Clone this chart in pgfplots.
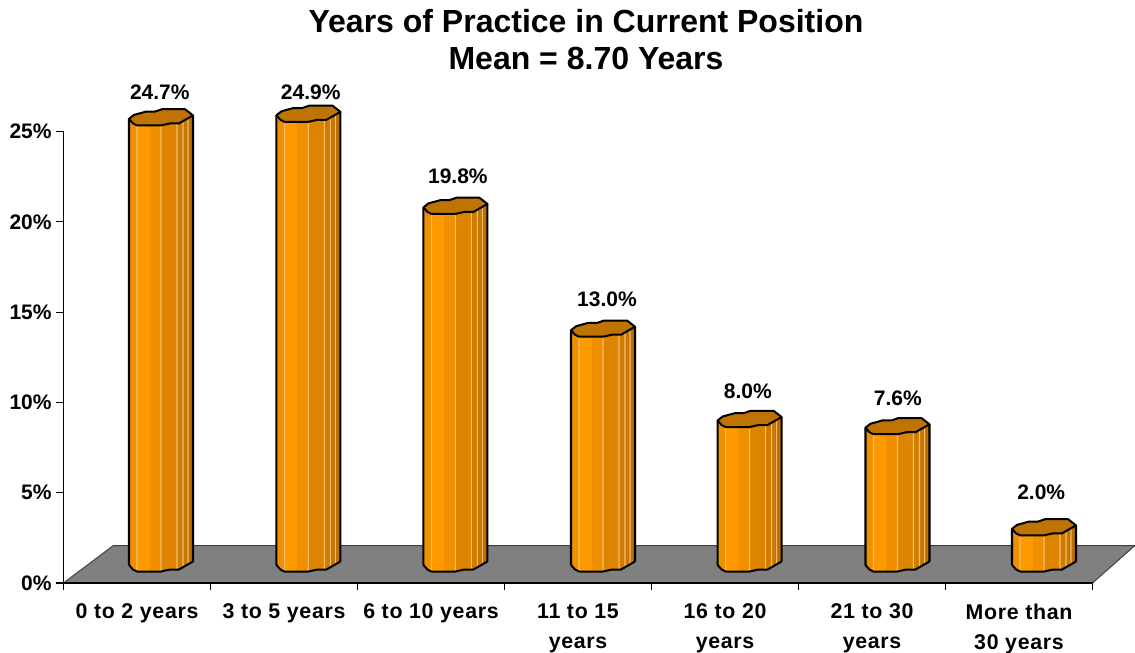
\documentclass[border=0pt]{standalone}
\usepackage{fontspec}
\usepackage{pgfplots}
\usepackage{pgfplotstable}
\pgfplotsset{compat=1.18}
\setmainfont{Liberation Sans}
\newfontfamily\xfont[LetterSpace=3.2]{Liberation Sans}

% 1 pixel of the reference = 0.75pt
\newdimen\px \px=0.75pt

\definecolor{floorfill}{HTML}{808080}
\definecolor{floorline}{HTML}{404040}
\definecolor{captop}{HTML}{BF7300}
\definecolor{bA}{HTML}{F09000}
\definecolor{bB}{HTML}{FF9900}
\definecolor{bC}{HTML}{F09000}
\definecolor{bD}{HTML}{DD8500}
\definecolor{bE}{HTML}{CF7C00}
\definecolor{bF}{HTML}{C87800}
\definecolor{bG}{HTML}{BC7100}
\definecolor{glint}{HTML}{F3BC70}

% x = bar position, v = value, lx/ly = where the value label sits
\pgfplotstableread{
x     v    lx    ly
0.500 24.7 0.655 27.16
1.503 24.9 1.682 27.19
2.503 19.8 2.683 22.51
3.507 13.0 3.697 15.71
4.504 8.0  4.655 10.62
5.510 7.6  5.676 10.23
6.507 2.0  6.651 5.00
}\bars

% cap of a cylinder, drawn at the top of the bar
\pgfdeclareplotmark{cyltop}{%
  \pgfpathmoveto{\pgfpoint{-8\px}{18\px}}%
  \pgfpathlineto{\pgfpoint{-4\px}{13.5\px}}%
  \pgfpathlineto{\pgfpoint{0\px}{11.5\px}}%
  \pgfpathlineto{\pgfpoint{24\px}{11.5\px}}%
  \pgfpathlineto{\pgfpoint{33\px}{13.5\px}}%
  \pgfpathlineto{\pgfpoint{42\px}{13.5\px}}%
  \pgfpathlineto{\pgfpoint{56\px}{21.5\px}}%
  \pgfpathlineto{\pgfpoint{48\px}{27.7\px}}%
  \pgfpathlineto{\pgfpoint{25\px}{27.7\px}}%
  \pgfpathlineto{\pgfpoint{18\px}{25.3\px}}%
  \pgfpathlineto{\pgfpoint{9\px}{25.3\px}}%
  \pgfpathlineto{\pgfpoint{-3\px}{22\px}}%
  \pgfpathclose
  \pgfusepathqfillstroke}
% front edge of the foot
\pgfdeclareplotmark{cylfoot}{%
  \pgfpathmoveto{\pgfpoint{-8\px}{18\px}}%
  \pgfpathlineto{\pgfpoint{-4\px}{13.5\px}}%
  \pgfpathlineto{\pgfpoint{0\px}{11.5\px}}%
  \pgfpathlineto{\pgfpoint{24\px}{11.5\px}}%
  \pgfpathlineto{\pgfpoint{33\px}{13.5\px}}%
  \pgfpathlineto{\pgfpoint{42\px}{13.5\px}}%
  \pgfpathlineto{\pgfpoint{56\px}{21.5\px}}%
  \pgfusepathqstroke}

% one vertical slice of every cylinder: centre, width, colour, lift (pixels)
\newcommand\strip[4]{%
  \addplot[ybar, bar shift={(#1-8)*0.75pt}, bar width={(#2+0.5)*0.75pt},
    fill=#3, draw=none, yshift={#4*0.75pt}] table[x=x,y=v] {\bars};}

\begin{document}
\begin{tikzpicture}
\path[use as bounding box] (0,0) rectangle (851.25pt,489.75pt);
\begin{axis}[
  at={(47.625pt,52.5pt)}, anchor=south west,
  scale only axis, width=771.75pt, height=338.625pt,
  xmin=0, xmax=7, ymin=0, ymax=25,
  axis x line*=bottom, axis y line*=left,
  axis on top, clip=false,
  axis line style={black, line width=0.9pt},
  tick style={black, line width=0.8pt},
  tick align=outside,
  major tick length=5.25pt,
  ytick={0,5,10,15,20,25},
  yticklabels={0\%,5\%,10\%,15\%,20\%,25\%},
  y tick label style={font=\fontsize{15.75}{18}\bfseries, inner sep=0pt, xshift=-3.5pt},
  xtick={0,...,7},
  xticklabels={},
  extra x ticks={0.5,1.5,2.5,3.5,4.5,5.5,6.5},
  extra x tick labels={0 to 2 years,3 to 5 years,6 to 10 years,11 to 15\\years,16 to 20\\years,21 to 30\\years,More than\\30 years},
  extra x tick style={major tick length=0pt},
  x tick label style={font=\fontsize{16}{22.5}\xfont\bfseries, align=center, inner sep=0pt, yshift=-15.5pt},
  title={Years of Practice in Current Position\\Mean = 8.70 Years},
  title style={font=\fontsize{24}{27.75}\bfseries, align=center, at={(0.5078,1)},
    anchor=south, inner sep=0pt, yshift=40.25pt},
]
% floor
\addplot[fill=floorfill, draw=floorline, line width=0.75pt] coordinates
  {(0,0) (7,0) (7.289,2.076) (0.34,2.076)} -- cycle;

% cylinder bodies, left to right
\strip{1}{2}{bA}{16.9}
\strip{3}{2}{bA}{14.6}
\strip{5}{2}{bA}{13}
\strip{7}{2}{bA}{12}
\strip{14.5}{13}{bB}{11.5}
\strip{26.5}{11}{bC}{11.5}
\strip{34}{4}{bD}{12}
\strip{38}{4}{bD}{13}
\strip{44}{8}{bD}{13.5}
\strip{49}{2}{bE}{13.6}
\strip{51}{2}{bE}{14.5}
\strip{53}{2}{bE}{15.3}
\strip{55}{2}{bF}{16.4}
\strip{57}{2}{bF}{17.6}
\strip{59}{2}{bG}{18.7}
\strip{61}{2}{bG}{19.9}
\strip{62.7}{1.6}{bG}{21}
% light seams between the faces
\strip{8}{0.6}{glint}{11.5}
\strip{32}{0.6}{glint}{11.5}
\strip{48}{0.6}{glint}{13.5}
\strip{54}{0.6}{glint}{15.8}
\strip{59}{0.6}{glint}{18.5}
% side edges
\strip{0}{1.6}{black}{18}
\strip{64}{1.6}{black}{21.5}

% foot edge and top cap
\addplot[only marks, mark=cylfoot, mark options={draw=black, line width=1.5pt, line join=round}]
  table[x=x, y expr=0] {\bars};
\addplot[only marks, mark=cyltop, mark options={draw=black, fill=captop, line width=1.5pt, line join=round}]
  table[x=x, y=v] {\bars};

% value labels
\addplot[draw=none, point meta=explicit,
  nodes near coords={\pgfmathprintnumber[fixed,fixed zerofill,precision=1,assume math mode=true]{\pgfplotspointmeta}\%},
  nodes near coords align={center},
  every node near coord/.append style={font=\fontsize{15.75}{18}\bfseries, inner sep=0pt, text=black}]
  table[x=lx, y=ly, meta=v] {\bars};
\end{axis}
\end{tikzpicture}
\end{document}
